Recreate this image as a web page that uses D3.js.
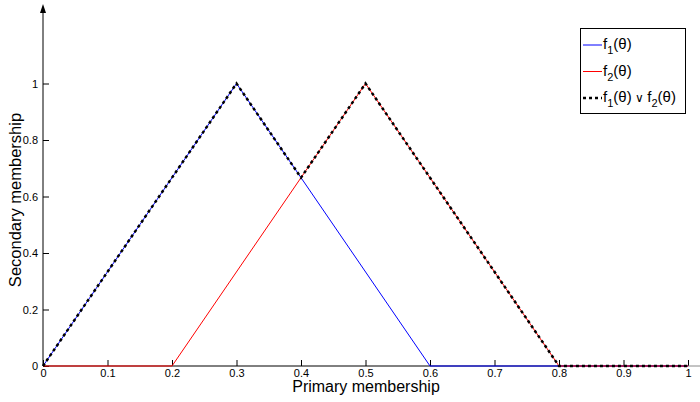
<!DOCTYPE html>
<html>
<head>
<meta charset="utf-8">
<script src="https://cdn.jsdelivr.net/npm/d3@7"></script>
<style>
  body { margin: 0; background: #fff; }
  svg { display: block; font-family: "Liberation Sans", Arial, sans-serif; }
  .tick text { font-size: 11px; fill: #000; }
</style>
</head>
<body>
<svg id="chart" width="700" height="402"></svg>
<script>
'use strict';

// breakpoints of each piecewise-linear function
var f1Theta = [0, 0.3, 0.6, 1];
var f1Value = [0, 1, 0, 0];
var f2Theta = [0, 0.2, 0.5, 0.8, 1];
var f2Value = [0, 0, 1, 0, 0];
var maxTheta = [0, 0.3, 0.4, 0.5, 0.8, 1];
var maxValue = [0, 1, 0.6667, 1, 0, 0];

var xTicks = [0, 0.1, 0.2, 0.3, 0.4, 0.5, 0.6, 0.7, 0.8, 0.9, 1];
var yTicks = [0, 0.2, 0.4, 0.6, 0.8, 1];
var legendLabels = ['1', '2', 'max'];

var svg = d3.select('#chart');

var x = d3.scaleLinear().domain([0, 1]).range([43, 688]);
var y = d3.scaleLinear().domain([0, 1]).range([366, 83.5]);

function zip(xs, ys) {
  return xs.map(function(t, i) { return [t, ys[i]]; });
}

var line = d3.line()
  .x(function(d) { return x(d[0]); })
  .y(function(d) { return y(d[1]); });

// axes
var xAxis = d3.axisBottom(x)
  .tickValues(xTicks)
  .tickSize(-6)
  .tickPadding(3)
  .tickFormat(d3.format('~g'));

var gx = svg.append('g')
  .attr('transform', 'translate(0,' + y(0) + ')')
  .call(xAxis);
gx.select('.domain').remove();
gx.selectAll('.tick line').attr('stroke', '#000');

var yAxis = d3.axisLeft(y)
  .tickValues(yTicks)
  .tickSize(-6)
  .tickPadding(5)
  .tickFormat(d3.format('~g'));

var gy = svg.append('g')
  .attr('transform', 'translate(' + x(0) + ',0)')
  .call(yAxis);
gy.select('.domain').remove();
gy.selectAll('.tick line').attr('stroke', '#000');

// axis lines with arrows
svg.append('line')
  .attr('x1', x(0)).attr('x2', x(1))
  .attr('y1', y(0)).attr('y2', y(0))
  .attr('stroke', '#000').attr('stroke-width', 1);
svg.append('line')
  .attr('x1', x(1)).attr('x2', 700)
  .attr('y1', y(0)).attr('y2', y(0))
  .attr('stroke', '#888').attr('stroke-width', 1);
svg.append('line')
  .attr('x1', x(0)).attr('x2', x(0))
  .attr('y1', y(0)).attr('y2', 8)
  .attr('stroke', '#000').attr('stroke-width', 1);
svg.append('path')
  .attr('d', 'M' + x(0) + ',4 L' + (x(0) - 3) + ',13 L' + (x(0) + 3) + ',13 Z')
  .attr('fill', '#000');

// series
svg.append('path')
  .datum(zip(f1Theta, f1Value))
  .attr('d', line)
  .attr('fill', 'none')
  .attr('stroke', '#0000ff')
  .attr('stroke-width', 1);

svg.append('path')
  .datum(zip(f2Theta, f2Value))
  .attr('d', line)
  .attr('fill', 'none')
  .attr('stroke', '#ff0000')
  .attr('stroke-width', 1);

svg.append('path')
  .datum(zip(maxTheta, maxValue))
  .attr('d', line)
  .attr('fill', 'none')
  .attr('stroke', '#000')
  .attr('stroke-width', 2.5)
  .attr('stroke-dasharray', '3,3');

// axis titles
svg.append('text')
  .attr('x', 366).attr('y', 392)
  .attr('text-anchor', 'middle')
  .attr('font-size', 16)
  .text('Primary membership');

svg.append('text')
  .attr('transform', 'translate(21,200) rotate(-90)')
  .attr('text-anchor', 'middle')
  .attr('font-size', 16.5)
  .text('Secondary membership');

// legend
var legend = svg.append('g');
legend.append('rect')
  .attr('x', 580.5).attr('y', 28.5)
  .attr('width', 105).attr('height', 85)
  .attr('fill', '#fff').attr('stroke', '#000');

var legendColors = ['#0000ff', '#ff0000', '#000'];
legendLabels.forEach(function(lab, i) {
  var ly = 45 + i * 26.5;
  legend.append('line')
    .attr('x1', 583).attr('x2', 602)
    .attr('y1', ly).attr('y2', ly)
    .attr('stroke', legendColors[i])
    .attr('stroke-width', i === 2 ? 2.5 : 1)
    .attr('stroke-dasharray', i === 2 ? '3,3' : null);

  var t = legend.append('text')
    .attr('x', 603).attr('y', ly + 4)
    .attr('font-size', 15);

  function fn(sub) {
    t.append('tspan').text('f');
    t.append('tspan').attr('font-size', 11).attr('dy', 5).text(sub);
    t.append('tspan').attr('dy', -5).text('(\u03b8)');
  }
  if (lab === 'max') {
    fn('1');
    t.append('tspan').attr('font-size', 12).text(' \u2228 ');
    fn('2');
  } else {
    fn(lab);
  }
});
</script>
</body>
</html>
